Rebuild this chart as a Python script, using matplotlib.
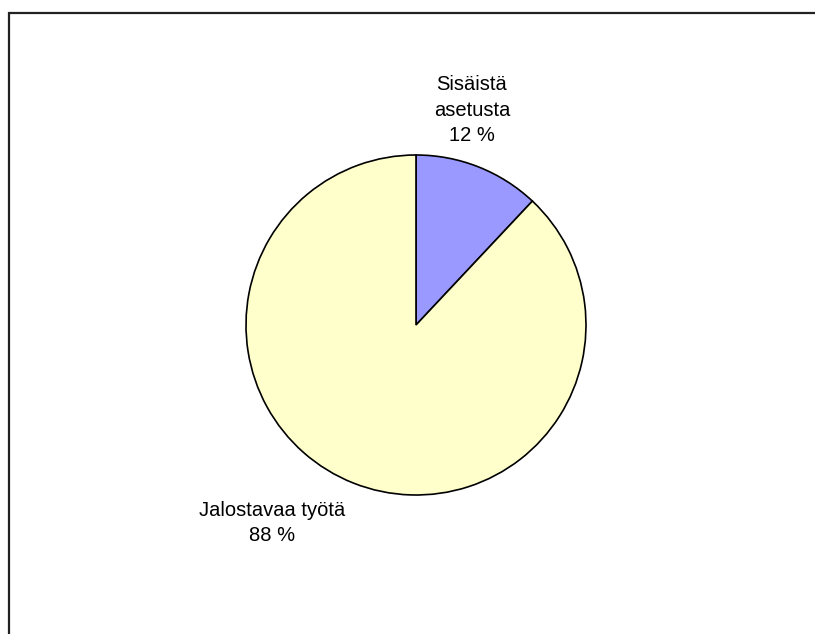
import matplotlib
matplotlib.use("Agg")
import matplotlib.pyplot as plt
from matplotlib.patches import Rectangle

# data
labels = ["Sisäistä\nasetusta", "Jalostavaa työtä"]
values = [12, 88]
colors = ["#9999FF", "#FFFFCC"]

plt.rcParams['font.family'] = ['Liberation Sans', 'DejaVu Sans']

W, H = 815, 634
fig = plt.figure(figsize=(W / 100, H / 100), dpi=100)
ax = fig.add_axes([0, 0, 1, 1])
ax.set_xlim(0, W)
ax.set_ylim(0, H)
ax.set_aspect('equal')
ax.axis('off')

# outer chart frame (runs off the right and bottom edge)
ax.add_patch(Rectangle((8.5, -20), 900, H - 12.5 + 20, fill=False,
                       edgecolor="#222222", linewidth=1.6))

cx, cy, r = 416, H - 325, 170
ax.pie(values, colors=colors, startangle=90, counterclock=False,
       center=(cx, cy), radius=r,
       wedgeprops=dict(edgecolor="black", linewidth=1.2))
ax.set_xlim(0, W)
ax.set_ylim(0, H)

# labels
label_pos = [(472, H - 110), (272, H - 523)]
for lab, v, (x, y) in zip(labels, values, label_pos):
    ax.text(x, y, f"{lab}\n{v} %", ha="center", va="center",
            fontsize=14.5, linespacing=1.45, color="black")

fig.savefig("out.png", dpi=100)
